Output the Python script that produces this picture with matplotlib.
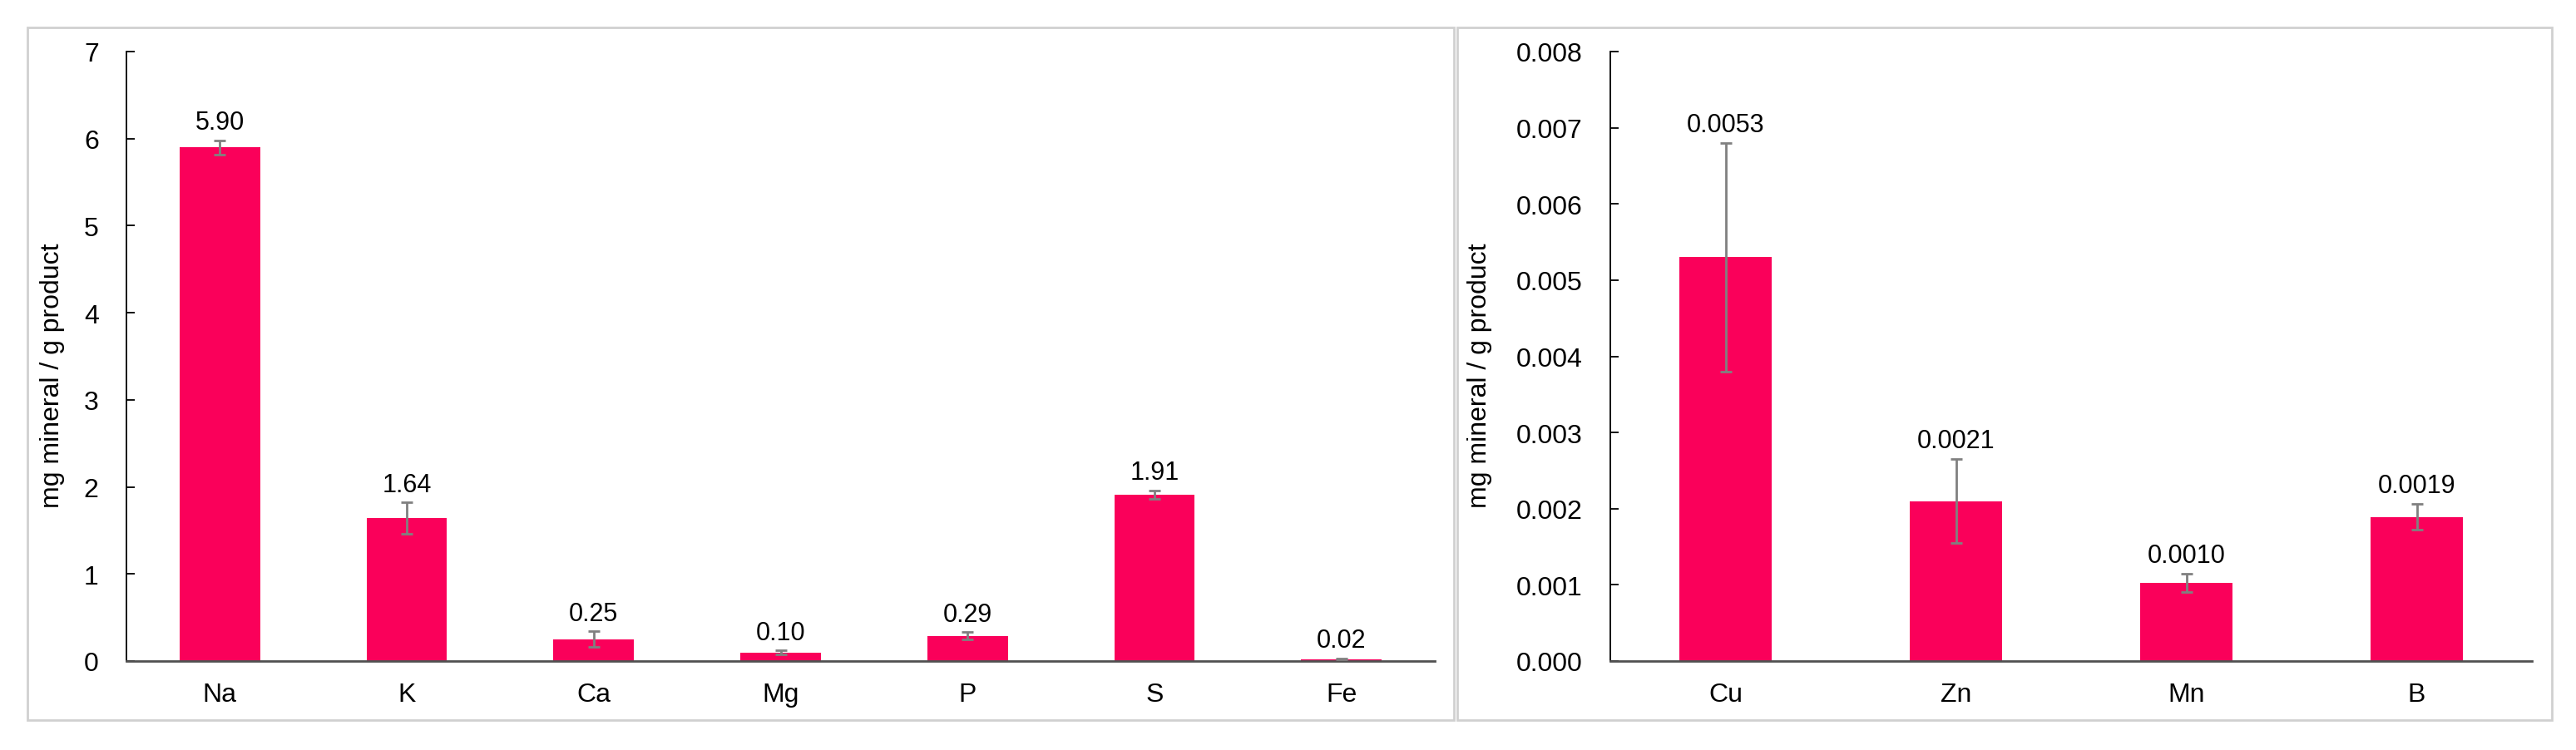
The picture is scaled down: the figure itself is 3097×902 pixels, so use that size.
import matplotlib
matplotlib.use("Agg")
import matplotlib.pyplot as plt
from matplotlib.patches import Rectangle
from matplotlib.ticker import FormatStrFormatter

plt.rcParams["font.family"] = ["Liberation Sans", "DejaVu Sans"]

# macro minerals (left panel)
macro_names = ["Na", "K", "Ca", "Mg", "P", "S", "Fe"]
macro_vals = [5.90, 1.64, 0.25, 0.10, 0.29, 1.91, 0.02]
macro_err = [0.08, 0.18, 0.09, 0.02, 0.04, 0.05, 0.005]
macro_labels = ["5.90", "1.64", "0.25", "0.10", "0.29", "1.91", "0.02"]

# trace minerals (right panel)
trace_names = ["Cu", "Zn", "Mn", "B"]
trace_vals = [0.0053, 0.0021, 0.00103, 0.00189]
trace_err = [0.0015, 0.00055, 0.00012, 0.00017]
trace_labels = ["0.0053", "0.0021", "0.0010", "0.0019"]

BAR = "#FA005A"
ERR = "#808080"
W, H = 3097, 903

fig = plt.figure(figsize=(W / 100, H / 100), dpi=100)

# panel frames
for x0, x1, col in [(33, 1748, "#d0d0d0"), (1752, 3068, "#d0d0d0")]:
    fig.add_artist(Rectangle((x0 / W, 1 - 867 / H), (x1 - x0) / W, (867 - 34) / H,
                             transform=fig.transFigure, fill=False,
                             edgecolor=col, linewidth=2))


def make_panel(rect, names, vals, errs, labels, ymax, step, fmt, width, ylab_x):
    ax = fig.add_axes(rect)
    x = list(range(len(names)))
    ax.bar(x, vals, width=width, color=BAR, zorder=2)
    ax.errorbar(x, vals, yerr=errs, fmt="none", ecolor=ERR, elinewidth=2,
                capsize=5, capthick=2, zorder=3)
    for xi, v, e, lab in zip(x, vals, errs, labels):
        ax.annotate(lab, (xi, v + e), xytext=(0, 10), textcoords="offset points",
                    ha="center", va="baseline", fontsize=22)
    ax.set_xlim(-0.5, len(names) - 0.5)
    ax.set_ylim(0, ymax)
    ticks = [i * step for i in range(int(round(ymax / step)) + 1)]
    ax.set_yticks(ticks)
    ax.yaxis.set_major_formatter(FormatStrFormatter(fmt))
    ax.set_xticks(x)
    ax.set_xticklabels(names)
    ax.tick_params(axis="y", direction="in", length=7, width=1.3, labelsize=23, pad=24)
    ax.tick_params(axis="x", length=0, labelsize=23, pad=18)
    for s in ["top", "right"]:
        ax.spines[s].set_visible(False)
    ax.spines["left"].set_linewidth(1.3)
    ax.spines["left"].set_color("black")
    ax.spines["bottom"].set_linewidth(2)
    ax.spines["bottom"].set_color("#505050")
    ax.set_ylabel("mg mineral / g product", fontsize=23)
    ax.yaxis.set_label_coords(ylab_x, 0.5, transform=fig.transFigure)
    return ax


make_panel([152 / W, 107 / H, 1573 / W, 733 / H], macro_names, macro_vals,
           macro_err, macro_labels, 7, 1, "%d", 0.43, 78 / W)
make_panel([1936 / W, 107 / H, 1108 / W, 733 / H], trace_names, trace_vals,
           trace_err, trace_labels, 0.008, 0.001, "%.3f", 0.40, 1794 / W)

fig.savefig("out.png", dpi=100, facecolor="white")
